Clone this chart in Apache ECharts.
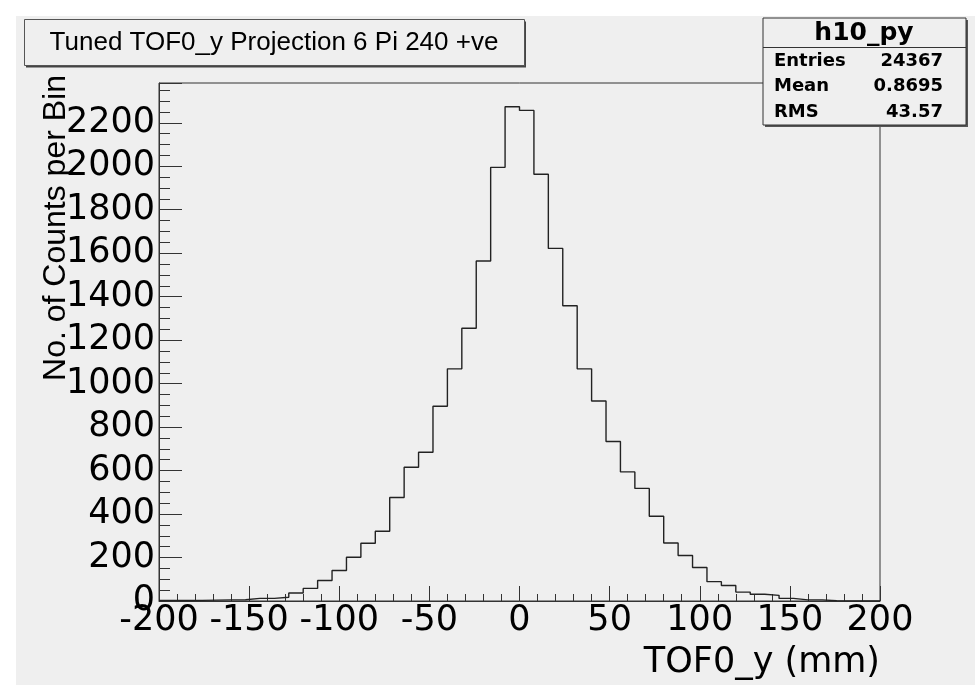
<!DOCTYPE html>
<html>
<head>
<meta charset="utf-8">
<script src="https://cdn.jsdelivr.net/npm/echarts@6/dist/echarts.min.js"></script>
<style>
  html, body { margin: 0; padding: 0; background: #ffffff; }
  #chart { width: 975px; height: 685px; }
</style>
</head>
<body>
<div id="chart"></div>
<script>
// ---- data ----
var binStart = -200;
var binWidth = 8;
var counts = [2, 2, 3, 4, 5, 6, 12, 12, 17, 37,
              58, 94, 140, 201, 266, 321, 476, 615, 684, 896,
              1068, 1255, 1564, 1995, 2274, 2257, 1963, 1622, 1358, 1068,
              920, 734, 594, 518, 390, 267, 209, 154, 89, 71,
              41, 31, 26, 12, 5, 5, 1, 0, 0, 0];
var xTicks = [-200, -150, -100, -50, 0, 50, 100, 150, 200];
var yTicks = [0, 200, 400, 600, 800, 1000, 1200, 1400, 1600, 1800, 2000, 2200];
var titleText = 'Tuned TOF0_y Projection 6 Pi 240 +ve';
var xTitle = 'TOF0_y (mm)';
var yTitle = 'No. of Counts per Bin';
var statsName = 'h10_py';
var statsLabels = ['Entries', 'Mean', 'RMS'];
var statsValues = ['24367', '0.8695', '43.57'];

// histogram outline points (left edges + final right edge)
var pts = [];
for (var i = 0; i < counts.length; i++) pts.push([binStart + i * binWidth, counts[i]]);
pts.push([binStart + counts.length * binWidth, counts[counts.length - 1]]);

var yMax = 2383;
var frameColor = '#333333';
var bg = '#efefef';

var chart = echarts.init(document.getElementById('chart'), null, { renderer: 'canvas' });

var statsElems = [
  { type: 'rect', z: 50, shape: { x: 765, y: 20, width: 203, height: 107 }, style: { fill: '#555' } },
  { type: 'rect', z: 51, shape: { x: 763, y: 18, width: 203, height: 107 }, style: { fill: bg, stroke: frameColor, lineWidth: 1 } },
  { type: 'line', z: 52, shape: { x1: 763, y1: 47.5, x2: 966, y2: 47.5 }, style: { stroke: frameColor, lineWidth: 1 } },
  { type: 'text', z: 53, x: 864, y: 33, style: { text: statsName, font: 'bold 25px "DejaVu Sans"', fill: '#000', align: 'center', verticalAlign: 'middle' } }
];
for (var s = 0; s < statsLabels.length; s++) {
  statsElems.push({ type: 'text', z: 53, x: 774, y: 61 + s * 25.5, style: { text: statsLabels[s], font: 'bold 18px "DejaVu Sans"', fill: '#000', align: 'left', verticalAlign: 'middle' } });
  statsElems.push({ type: 'text', z: 53, x: 943, y: 61 + s * 25.5, style: { text: statsValues[s], font: 'bold 18px "DejaVu Sans"', fill: '#000', align: 'right', verticalAlign: 'middle' } });
}

var option = {
  animation: false,
  backgroundColor: '#ffffff',
  grid: { left: 159, right: 95, top: 83, bottom: 84, show: true, borderColor: frameColor, borderWidth: 1, backgroundColor: 'transparent' },
  xAxis: {
    type: 'value', min: xTicks[0], max: xTicks[xTicks.length - 1], interval: 50,
    axisLine: { show: true, onZero: false, lineStyle: { color: frameColor, width: 1 } },
    axisTick: { show: true, inside: true, length: 15, lineStyle: { color: frameColor } },
    minorTick: { show: true, splitNumber: 5, length: 7, lineStyle: { color: frameColor } },
    splitLine: { show: false },
    axisLabel: { show: true, margin: 2, color: '#000', fontFamily: 'DejaVu Sans', fontSize: 35,
      showMinLabel: true, showMaxLabel: true,
      formatter: function (v) { return xTicks.indexOf(v) >= 0 ? String(v) : ''; } }
  },
  yAxis: [
    {
      type: 'value', min: 0, max: yMax, interval: 50, position: 'left',
      axisLine: { show: true, onZero: false, lineStyle: { color: frameColor, width: 1 } },
      axisTick: { show: true, inside: true, length: 11, lineStyle: { color: frameColor } },
      axisLabel: { show: false },
      splitLine: { show: false }
    },
    {
      type: 'value', min: 0, max: yMax, interval: 200, position: 'left',
      axisLine: { show: false, onZero: false },
      axisTick: { show: true, inside: true, length: 23, lineStyle: { color: frameColor } },
      splitLine: { show: false },
      axisLabel: { show: true, margin: 4, color: '#000', fontFamily: 'DejaVu Sans', fontSize: 35,
        formatter: function (v) { return yTicks.indexOf(v) >= 0 ? String(v) : ''; } }
    }
  ],
  series: [{
    type: 'line', yAxisIndex: 1, step: 'end', data: pts, symbol: 'none', clip: true,
    lineStyle: { color: '#222222', width: 1.4 }, z: 5
  }],
  graphic: [
    { type: 'rect', z: -100, silent: true, shape: { x: 16, y: 16, width: 975 - 16, height: 685 - 16 }, style: { fill: bg } },
    // title box
    { type: 'rect', z: 50, shape: { x: 26, y: 21.5, width: 500, height: 46 }, style: { fill: '#444' } },
    { type: 'rect', z: 51, shape: { x: 24.5, y: 19.5, width: 500, height: 46 }, style: { fill: bg, stroke: '#555', lineWidth: 1 } },
    { type: 'text', z: 52, x: 274, y: 43, style: { text: titleText, font: '26px "Liberation Sans"', fill: '#000', align: 'center', verticalAlign: 'middle' } },
    // axis titles
    { type: 'text', z: 30, x: 880, y: 663, style: { text: xTitle, font: '35px "DejaVu Sans"', fill: '#000', align: 'right', verticalAlign: 'middle' } },
    { type: 'text', z: 30, x: 56, y: 75, rotation: Math.PI / 2, style: { text: yTitle, font: '32px "Liberation Sans"', fill: '#000', align: 'right', verticalAlign: 'middle' } }
  ].concat(statsElems)
};
chart.setOption(option);
</script>
</body>
</html>
